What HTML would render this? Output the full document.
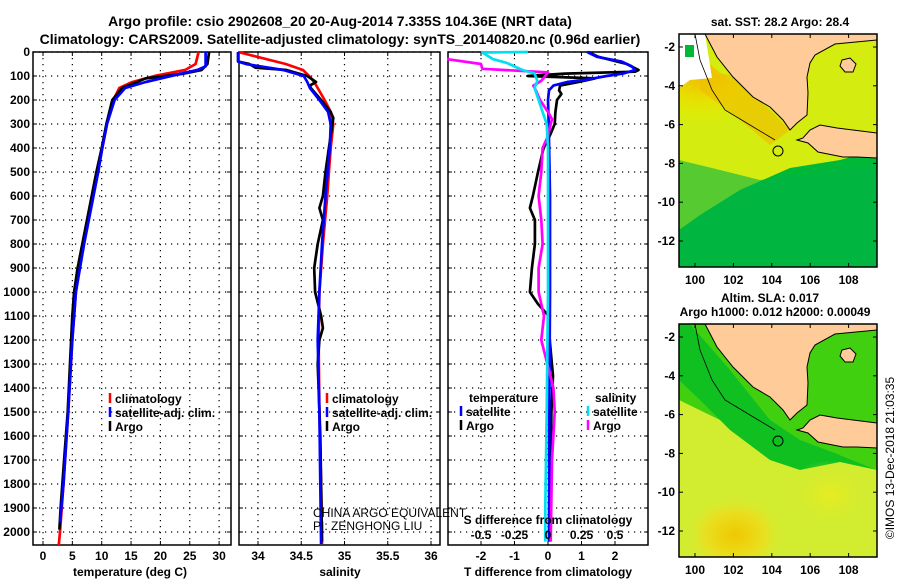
<!DOCTYPE html>
<html><head><meta charset="utf-8">
<style>
html,body{margin:0;padding:0;background:#fff;}
svg{display:block;font-family:"Liberation Sans",sans-serif;font-weight:bold;}
</style></head>
<body>
<svg id="fig" width="900" height="580" viewBox="0 0 900 580" xmlns="http://www.w3.org/2000/svg">
<defs>
<radialGradient id="sstWarm" cx="0.2" cy="0.15" r="0.6"><stop offset="0" stop-color="#f0b800"/><stop offset="0.5" stop-color="#e8e000"/><stop offset="1" stop-color="#e0f000" stop-opacity="0"/></radialGradient>
<radialGradient id="slaBlob" cx="0.5" cy="0.5" r="0.5"><stop offset="0" stop-color="#f0c800"/><stop offset="0.6" stop-color="#e8e020"/><stop offset="1" stop-color="#d8ec30" stop-opacity="0"/></radialGradient>
<radialGradient id="slaBlob2" cx="0.5" cy="0.5" r="0.5"><stop offset="0" stop-color="#e8ec20"/><stop offset="1" stop-color="#d0ec30" stop-opacity="0"/></radialGradient>
<clipPath id="clipTop"><rect x="679" y="34" width="198" height="233"/></clipPath>
<clipPath id="clipBot"><rect x="679" y="324" width="198" height="233"/></clipPath>
</defs>
<text x="340" y="26" text-anchor="middle" font-size="14">Argo profile: csio 2902608_20 20-Aug-2014 7.335S 104.36E (NRT data)</text>
<text x="340" y="44" text-anchor="middle" font-size="14">Climatology: CARS2009. Satellite-adjusted climatology: synTS_20140820.nc (0.96d earlier)</text>
<g id="panels"></g>
<g id="maps"></g>
<text transform="translate(894,458) rotate(-90)" text-anchor="middle" font-size="12" font-weight="normal">©IMOS 13-Dec-2018 21:03:35</text>
</svg>
<script>
// ---------- data ----------
const depthTicks = [0,100,200,300,400,500,600,700,800,900,1000,1100,1200,1300,1400,1500,1600,1700,1800,1900,2000];
const tempTicks = [0,5,10,15,20,25,30];
const salTicks = [34,34.5,35,35.5,36];
const salTickLabels = ['34','34.5','35','35.5','36'];
const tdiffTicks = [-2,-1,0,1,2];
const sdiffTicks = [-0.5,-0.25,0,0.25,0.5];
const sdiffTickLabels = ['-0.5','-0.25','0','0.25','0.5'];

const tempArgoDepth = [0,50,75,90,100,110,125,150,200,300,400,500,600,700,800,900,1000,1100,1300,1500,1700,1900,1990];
const tempArgo = [28.3,28.0,27.0,24,20.8,17.5,16,13.5,11.8,10.8,10,9.1,8.3,7.5,6.7,5.9,5.3,5.0,4.6,4.2,3.6,3.0,2.8];
const tempClimDepth = [0,50,75,100,125,150,200,300,400,500,600,700,800,900,1000,1200,1500,1800,2000,2054];
const tempClim = [26.5,26,24.2,19,15.2,13,12,10.9,10.1,9.3,8.5,7.6,6.9,6.2,5.6,5.0,4.3,3.5,2.9,2.7];
const tempSatDepth = [0,60,75,100,125,150,200,300,400,500,600,700,800,900,1000,1200,1500,1800,1960];
const tempSat = [27.7,27.7,26.3,21.8,17.5,14,12.2,10.9,10.1,9.4,8.6,7.8,7.0,6.3,5.6,5.0,4.3,3.5,2.9];

const salClimDepth = [0,50,75,100,125,150,200,250,300,400,500,600,800,1000,1200,1500,1800,2050];
const salClim = [33.77,34.32,34.52,34.59,34.65,34.69,34.77,34.84,34.87,34.84,34.82,34.8,34.75,34.71,34.7,34.71,34.73,34.74];
const salSatDepth = [0,40,50,75,100,125,150,200,250,300,400,600,800,1000,1200,1500,1800,2050];
const salSat = [33.77,33.77,33.86,34.29,34.53,34.57,34.6,34.71,34.81,34.84,34.83,34.78,34.74,34.71,34.69,34.71,34.72,34.73];
const salArgoDepth = [0,40,50,65,75,100,125,140,150,200,250,275,300,400,500,600,650,700,800,900,1000,1100,1150,1200,1300,1400,1600,1800,2040];
const salArgo = [33.77,33.77,33.9,33.97,34.33,34.57,34.67,34.6,34.61,34.73,34.84,34.87,34.86,34.82,34.78,34.75,34.71,34.75,34.69,34.65,34.66,34.73,34.75,34.71,34.69,34.7,34.72,34.73,34.74];

const tdSatDepth = [0,20,40,60,75,90,100,115,125,140,160,200,300,600,1000,1500,2040];
const tdSat = [1.17,1.46,2.2,2.5,2.6,2.24,1.75,1.17,0.57,0.16,0.03,0,0.02,0.06,0.06,0.04,0.03];
const tdArgoDepth = [0,20,50,75,82,90,100,110,125,140,160,175,200,250,300,340,400,500,600,650,700,800,900,1000,1050,1100,1200,1350,1500,1700,1900,2040];
const tdArgo = [1.2,1.5,2.35,2.7,2.6,0.5,-0.6,1.4,0.9,0.36,0.33,0.4,0.27,0.22,0.2,0.08,-0.13,-0.3,-0.45,-0.54,-0.39,-0.39,-0.48,-0.54,-0.3,0.02,0.05,0.15,0.1,0.08,0.05,0.04];
const sdSatDepth = [0,2,30,45,75,90,120,150,200,250,300,400,1000,1500,1900,2040];
const sdSat = [-0.15,-0.49,-0.41,-0.31,-0.19,-0.1,-0.08,-0.1,-0.07,-0.04,-0.01,0,0,-0.01,-0.02,-0.02];
const sdArgoDepth = [30,50,70,85,100,120,140,160,200,250,280,300,350,400,500,600,700,800,900,1000,1100,1200,1400,1500,1700,2040];
const sdArgo = [-0.75,-0.5,-0.49,0,-0.02,-0.05,-0.11,-0.09,-0.06,0,0.03,0.02,0,-0.04,-0.05,-0.07,-0.05,-0.04,-0.07,-0.07,-0.03,-0.05,0.04,0.05,0.03,0.02];

// ---------- axes ----------
const Y0 = 52, YB = 545;
function yDepth(d){ return Y0 + d*0.24; }
const P1 = {x0:33,x1:231}, P2 = {x0:239,x1:440}, P3 = {x0:448,x1:648};
function xTemp(v){ return 43 + v*5.87; }
function xSal(v){ return 258 + (v-34)*86.5; }
function xTd(v){ return 548 + v*33.5; }
function xSd(v){ return 548 + v*134; }

const NS = 'http://www.w3.org/2000/svg';
const g = document.getElementById('panels');
function mk(tag, attrs, parent){
  const e = document.createElementNS(NS, tag);
  for (const k in attrs) e.setAttribute(k, attrs[k]);
  (parent||g).appendChild(e);
  return e;
}
function txt(x,y,s,size,anchor,parent){
  const t = mk('text',{x:x,y:y,'font-size':size,'text-anchor':anchor||'middle'},parent);
  t.textContent = s;
  return t;
}

function drawPanel(P, name, xTicksPos, xLabels){
  const grp = mk('g',{});
  
  
  depthTicks.forEach(d=>{
    const y = yDepth(d);
    mk('line',{x1:P.x0,x2:P.x1,y1:y,y2:y,stroke:'#000','stroke-width':1.2,'stroke-dasharray':'1.2,4.8'},grp);
    mk('line',{x1:P.x0,x2:P.x0+4,y1:y,y2:y,stroke:'#000','stroke-width':1},grp);
    mk('line',{x1:P.x1-4,x2:P.x1,y1:y,y2:y,stroke:'#000','stroke-width':1},grp);
  });
  xTicksPos.forEach(x=>{
    mk('line',{x1:x,x2:x,y1:Y0,y2:YB,stroke:'#000','stroke-width':1.2,'stroke-dasharray':'1.2,4.8'},grp);
    mk('line',{x1:x,x2:x,y1:YB-4,y2:YB,stroke:'#000','stroke-width':1},grp);
    mk('line',{x1:x,x2:x,y1:Y0,y2:Y0+4,stroke:'#000','stroke-width':1},grp);
  });
  mk('rect',{x:P.x0,y:Y0,width:P.x1-P.x0,height:YB-Y0,fill:'none',stroke:'#000','stroke-width':1.5},grp);
  xTicksPos.forEach((x,i)=>{
    const t = txt(x,560,xLabels[i],12,'middle',grp);
    
    
  });
  return grp;
}

const g1 = drawPanel(P1,'temperature-panel',tempTicks.map(xTemp),tempTicks.map(String));
const g2 = drawPanel(P2,'salinity-panel',salTicks.map(xSal),salTickLabels);
const g3 = drawPanel(P3,'difference-panel',tdiffTicks.map(xTd),tdiffTicks.map(String));

depthTicks.forEach(d=>{
  const t = txt(30,yDepth(d)+4,String(d),12,'end');
  
  
});

function series(depths, vals, xf, color, name, parent, w){
  const pts = depths.map((d,i)=> xf(vals[i]).toFixed(1)+','+yDepth(d).toFixed(1)).join(' ');
  const p = mk('polyline',{points:pts,fill:'none',stroke:color,'stroke-width':w||2.7,'stroke-linejoin':'round'},parent);
  
  
}
series(tempClimDepth,tempClim,xTemp,'#ff0000','temp-climatology-line',g1);
series(tempArgoDepth,tempArgo,xTemp,'#000000','temp-argo-line',g1);
series(tempSatDepth,tempSat,xTemp,'#0000ff','temp-satellite-line',g1);
series(salClimDepth,salClim,xSal,'#ff0000','sal-climatology-line',g2);
series(salArgoDepth,salArgo,xSal,'#000000','sal-argo-line',g2);
series(salSatDepth,salSat,xSal,'#0000ff','sal-satellite-line',g2);
series(tdArgoDepth,tdArgo,xTd,'#000000','tdiff-argo-line',g3);
series(tdSatDepth,tdSat,xTd,'#0000ff','tdiff-satellite-line',g3);
series(sdArgoDepth,sdArgo,xSd,'#ff00ff','sdiff-argo-line',g3);
series(sdSatDepth,sdSat,xSd,'#00e0f0','sdiff-satellite-line',g3);

function legendEntry(x,y,color,label){
  const lg = mk('g',{});
  
  
  mk('line',{x1:x,x2:x,y1:y-10,y2:y,stroke:color,'stroke-width':2.5},lg);
  txt(x+5,y,label,12,'start',lg);
}
[[P1,110],[P2,327]].forEach(([P,x])=>{
  legendEntry(x,403,'#ff0000','climatology');
  legendEntry(x,417,'#0000ff','satellite-adj. clim.');
  legendEntry(x,431,'#000000','Argo');
});
txt(469,402,'temperature',12,'start');
legendEntry(461,416,'#0000ff','satellite');
legendEntry(461,430,'#000000','Argo');
txt(595,402,'salinity',12,'start');
legendEntry(588,416,'#00e0f0','satellite');
legendEntry(588,430,'#ff00ff','Argo');

let t;
t = txt(313,517,'CHINA ARGO EQUIVALENT',12,'start'); t.setAttribute('font-weight','normal');
 
t = txt(313,530,'PI: ZENGHONG LIU',12,'start'); t.setAttribute('font-weight','normal');
 
t = txt(548,524,'S difference from climatology',12,'middle');
 
sdiffTicks.forEach((v,i)=>{
  const s = txt(xSd(v),539,sdiffTickLabels[i],12,'middle');
  
  
});
t = txt(130,576,'temperature (deg C)',12,'middle');
 
t = txt(340,576,'salinity',12,'middle');
 
t = txt(548,576,'T difference from climatology',12,'middle');
 

// ---------- maps ----------
const mg = document.getElementById('maps');
const lonTicks = [100,102,104,106,108];
const latTicks = [-2,-4,-6,-8,-10,-12];
function xLon(v){ return 695 + (v-100)*19.2; }
function yLat(v, off){ return off + 47 + (-2 - v)*19.4; }
const land = [[705,34],[717,57],[733,77],[753,97],[770,107],[783,120],[790,130],[797,123],[807,115],[808,93],[807,77],[810,63],[815,55],[835,44],[877,40],[877,34]];
const java = [[797,140],[808,143],[818,152],[843,157],[857,157],[877,158],[877,133],[837,128],[820,125],[810,130],[803,138]];
const bangka = [[842,60],[850,58],[856,64],[853,72],[845,72],[840,66]];
function ptsOff(arr,off){ return arr.map(p=>p[0]+','+(p[1]+off)).join(' '); }

function drawMap(off, name, kind){
  const mgrp = mk('g',{},mg);
  
  
  const cg = mk('g',{'clip-path': off===0?'url(#clipTop)':'url(#clipBot)'},mgrp);
  if (kind==='sst'){
    mk('rect',{x:679,y:34,width:198,height:233,fill:'#00b838'},cg);
    mk('polygon',{points:'679,34 877,34 877,150 840,160 790,168 740,190 700,215 679,230',fill:'#d4ec10'},cg);
    mk('polygon',{points:'679,70 705,60 790,130 760,150 720,150 679,140',fill:'url(#sstWarm)'},cg);
    mk('polygon',{points:'700,70 730,75 770,110 790,130 770,145 740,120 700,90',fill:'#f0c000','fill-opacity':0.7},cg);
    mk('polygon',{points:'679,34 705,34 712,78 690,80 679,88',fill:'#ffffff'},cg);
    mk('rect',{x:685,y:45,width:9,height:12,fill:'#00b838'},cg);
    mk('polygon',{points:'679,160 720,170 760,180 877,165 877,267 679,267',fill:'#00b448','fill-opacity':0.6},cg);
  } else {
    mk('rect',{x:679,y:324,width:198,height:233,fill:'#d2ec30'},cg);
    mk('polygon',{points:'679,324 877,324 877,470 840,455 800,460 760,450 720,420 679,400',fill:'#40d010'},cg);
    mk('polygon',{points:'690,324 730,370 770,420 800,440 840,455 877,470 877,470 840,462 800,470 770,460 730,430 700,400 679,380 679,324',fill:'#10c020'},cg);
    mk('ellipse',{cx:735,cy:535,rx:50,ry:40,fill:'url(#slaBlob)'},cg);
    mk('ellipse',{cx:830,cy:495,rx:45,ry:35,fill:'url(#slaBlob2)'},cg);
  }
  mk('polygon',{points:ptsOff(land,off),fill:'#ffcc99',stroke:'#000','stroke-width':1},cg);
  mk('polygon',{points:ptsOff(java,off),fill:'#ffcc99',stroke:'#000','stroke-width':1},cg);
  mk('polygon',{points:ptsOff(bangka,off),fill:'#ffcc99',stroke:'#000','stroke-width':1},cg);
  mk('polyline',{points:ptsOff([[695,34],[700,60],[712,90],[725,110],[750,125],[775,140]],off),fill:'none',stroke:'#000','stroke-width':0.8},cg);
  const c = mk('circle',{cx:778,cy:151+off,r:5,fill:'none',stroke:'#000','stroke-width':1},cg);
  
  
  mk('rect',{x:679,y:34+off,width:198,height:233,fill:'none',stroke:'#000','stroke-width':1.5},mgrp);
  lonTicks.forEach(v=>{
    const x = xLon(v);
    mk('line',{x1:x,x2:x,y1:267+off,y2:263+off,stroke:'#000'},mgrp);
    mk('line',{x1:x,x2:x,y1:34+off,y2:38+off,stroke:'#000'},mgrp);
    const l = txt(x,284+off,String(v),12,'middle',mgrp);
    
    
  });
  latTicks.forEach(v=>{
    const y = yLat(v,off);
    mk('line',{x1:679,x2:683,y1:y,y2:y,stroke:'#000'},mgrp);
    mk('line',{x1:873,x2:877,y1:y,y2:y,stroke:'#000'},mgrp);
    const l = txt(675,y+4,String(v),12,'end',mgrp);
    
    
  });
}
drawMap(0,'sst-map','sst');
drawMap(290,'sla-map','sla');
t = txt(780,26,'sat. SST: 28.2 Argo: 28.4',12,'middle',mg);
 
t = txt(770,302,'Altim. SLA: 0.017',12,'middle',mg);
 
t = txt(775,316,'Argo h1000: 0.012 h2000: 0.00049',12,'middle',mg);
 
</script>
</body></html>
